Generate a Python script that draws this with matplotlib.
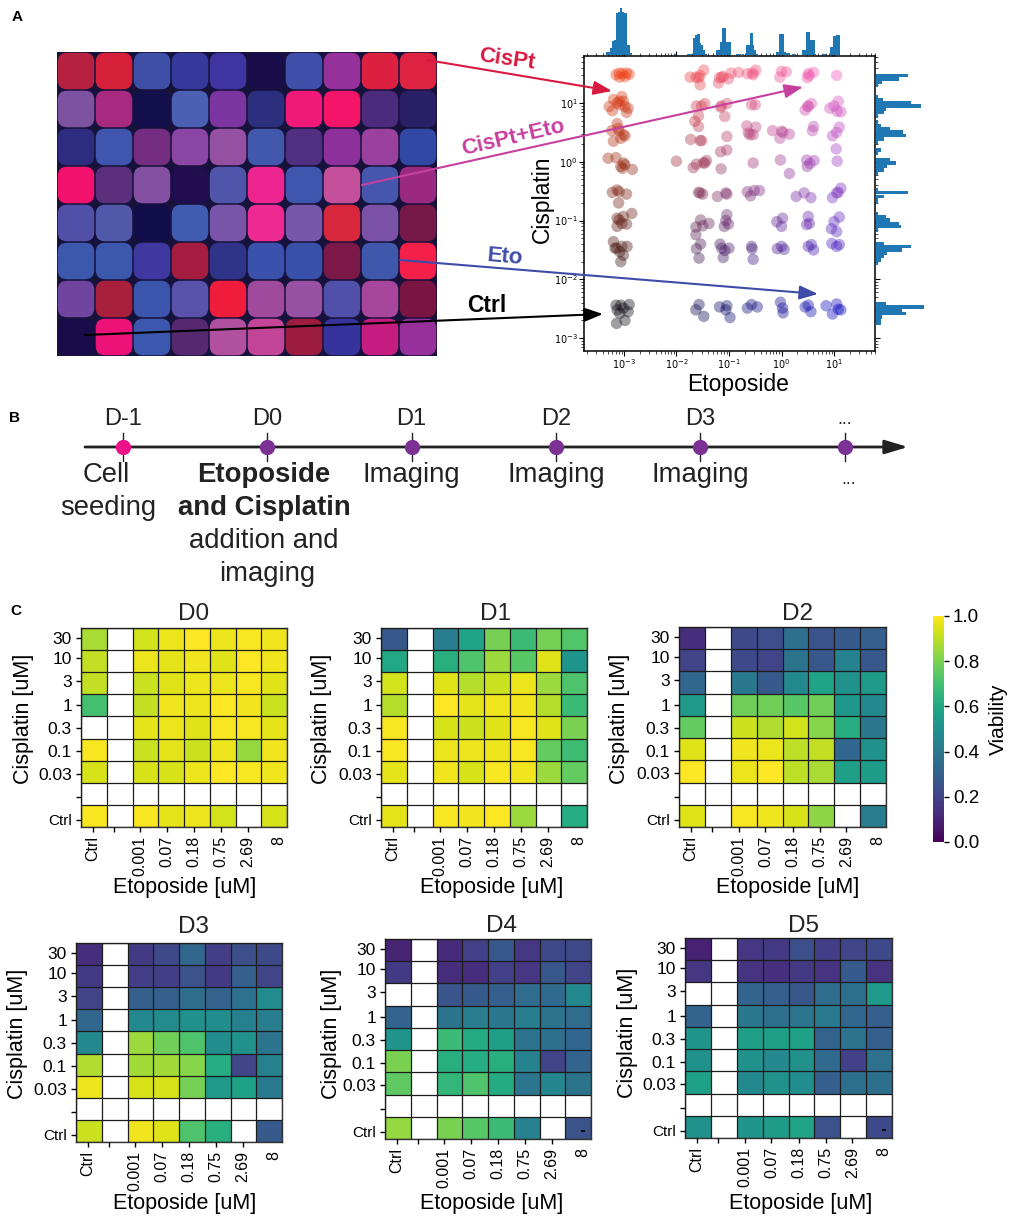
#!/usr/bin/env python3

import numpy as np
import matplotlib
matplotlib.use("Agg")
import matplotlib.pyplot as plt
from matplotlib.patches import FancyBboxPatch

plt.rcParams["font.family"] = ["Liberation Sans", "DejaVu Sans"]

W, H = 1009, 1216

# panel A: plate wells, row by row
well_colors = [
    ["#B5213F", "#D6203A", "#3F4FA8", "#35399A", "#3F34A0", "#1A0E4A", "#4050AA", "#96309A", "#DC2040", "#DE2242"],
    ["#7D52A0", "#A72A80", "#14104E", "#4B5FB3", "#7C35A0", "#2C2E7E", "#F01878", "#F41468", "#4C2A7C", "#2A2068"],
    ["#2E2C80", "#3F55AE", "#742D80", "#8A45A5", "#9650A2", "#4258AC", "#502F80", "#8E309C", "#9A409F", "#3148A4"],
    ["#F2126E", "#5C2F7C", "#8350A2", "#200E50", "#4F55AB", "#EE2590", "#3F55AE", "#C4509C", "#4656AC", "#9A2A80"],
    ["#5050A8", "#5058AA", "#120E4C", "#3F5CB0", "#7855A8", "#EE2A92", "#7856A8", "#D8263C", "#7A52A6", "#761848"],
    ["#3C58AC", "#3C58AC", "#3E38A0", "#A41C40", "#2F3488", "#3B52AC", "#3950A8", "#7C1848", "#4058AC", "#F4204A"],
    ["#6F45A0", "#A8203C", "#3B55AC", "#5852AA", "#F01C3C", "#A04A9E", "#9850A2", "#5050AA", "#A8459C", "#7A1440"],
    ["#1A0C4A", "#EC1278", "#3B58AE", "#56286F", "#B0509E", "#C24598", "#9C1C40", "#36349C", "#C41C80", "#98309C"],
]

# panel A: log10 concentrations of each droplet, one pair of lists per cisplatin level
eto_30 = [-3.15, -3.09, -3.03, -2.95, -2.90, -3.08, -2.98, -1.74, -1.63, -1.58, -1.55, -1.48, -1.55,
          -1.18, -1.14, -1.11, -1.20, -1.01, -0.96, -0.82, -0.65, -0.55, -0.49, -0.54,
          -0.03, 0.00, 0.09, 0.49, 0.51, 0.61, 0.53, 1.05]
cis_30 = [1.48, 1.51, 1.50, 1.51, 1.49, 1.44, 1.45, 1.44, 1.44, 1.43, 1.31, 1.56, 1.47,
          1.43, 1.44, 1.45, 1.34, 1.41, 1.51, 1.52, 1.50, 1.51, 1.56, 1.48,
          1.44, 1.54, 1.53, 1.43, 1.50, 1.52, 1.47, 1.47]
eto_10 = [-3.28, -3.20, -3.13, -3.04, -3.08, -2.98, -2.92, -3.22, -2.95, -3.09, -3.01,
          -1.62, -1.52, -1.46, -1.58, -1.14, -1.04, -1.16, -1.08,
          -0.57, -0.50, 0.45, 0.50, 0.57, 0.51, 0.92, 1.00, 1.08, 1.06, 1.13]
cis_10 = [0.94, 1.06, 1.00, 1.11, 0.97, 0.94, 0.91, 0.87, 0.84, 1.03, 1.03,
          0.95, 0.95, 0.99, 0.78, 0.95, 0.99, 0.93, 0.77,
          0.97, 0.97, 0.88, 0.94, 0.99, 0.95, 0.91, 0.95, 1.03, 0.86, 0.85]
eto_3 = [-3.13, -3.23, -3.09, -3.01, -2.98, -3.06, -3.20, -3.11,
         -1.65, -1.58, -1.73, -1.55, -1.52, -1.04,
         -0.66, -0.49, -0.63, -0.60, -0.54,
         -0.17, 0.00, 0.03, 0.15, -0.03, 0.61, 0.59, 0.97, 1.05, 1.10]
cis_3 = [0.65, 0.53, 0.52, 0.46, 0.44, 0.40, 0.35, 0.57,
         0.69, 0.60, 0.38, 0.36, 0.36, 0.43,
         0.61, 0.59, 0.49, 0.46, 0.46,
         0.53, 0.52, 0.50, 0.47, 0.40, 0.60, 0.53, 0.44, 0.50, 0.59]
eto_1 = [-3.30, -3.15, -3.06, -3.01, -2.98, -3.03, -2.84, -2.00,
         -1.68, -1.62, -1.49, -1.43, -1.46, -1.16, -1.04, -1.15,
         -0.54, -0.02, 0.15, 0.48, 0.62, 0.54, 0.49, 1.04, 1.06]
cis_1 = [0.06, 0.07, -0.08, -0.02, -0.05, -0.11, -0.13, 0.01,
         -0.10, -0.04, -0.02, 0.02, -0.02, 0.17, 0.20, -0.12,
         -0.02, 0.03, -0.20, 0.03, 0.02, -0.03, -0.08, 0.22, 0.01]
eto_03 = [-3.22, -3.13, -3.09, -2.95, -3.10, -1.58, -1.55, -1.50, -1.22, -1.04, -1.06,
          -0.65, -0.52, -0.42, -0.59, 0.28, 0.43, 0.56, 0.97, 1.05, 1.08, 1.13]
cis_03 = [-0.52, -0.48, -0.51, -0.55, -0.70, -0.52, -0.53, -0.55, -0.59, -0.55, -0.53,
          -0.51, -0.49, -0.49, -0.58, -0.59, -0.53, -0.61, -0.61, -0.53, -0.52, -0.45]
eto_01 = [-2.85, -3.13, -3.01, -2.95, -3.09, -3.13, -3.04,
          -1.54, -1.38, -1.63, -1.50, -1.63, -1.04, -1.06, -1.01, -1.09,
          -0.09, 0.02, 0.00, 0.51, 0.53, 0.48, 1.00, 1.10, 0.95, 1.05]
cis_01 = [-0.88, -0.96, -0.93, -1.06, -0.99, -1.10, -1.05,
          -0.99, -1.05, -1.11, -1.09, -1.24, -0.90, -1.00, -1.06, -1.10,
          -1.02, -0.96, -1.10, -0.93, -1.05, -1.07, -1.02, -0.94, -1.14, -1.19]
eto_003 = [-3.20, -3.14, -3.04, -2.94, -3.08, -3.01, -3.06, -3.17,
           -1.62, -1.54, -1.57, -1.17, -1.14, -1.00, -1.08, -1.11,
           -0.57, -0.56, -0.54, -0.08, 0.00, 0.05, 0.51, 0.57, 0.61, 0.96, 1.05, 1.10]
cis_003 = [-1.36, -1.47, -1.44, -1.44, -1.53, -1.59, -1.70, -1.47,
           -1.48, -1.40, -1.64, -1.40, -1.47, -1.47, -1.51, -1.63,
           -1.44, -1.48, -1.66, -1.48, -1.44, -1.49, -1.44, -1.41, -1.50, -1.39, -1.44, -1.41]
eto_ctrl = [-3.15, -3.06, -2.90, -3.13, -3.01, -2.92, -2.98, -3.14, -3.08,
            -1.63, -1.57, -1.48, -1.18, -1.04, -1.06, -0.98,
            -0.65, -0.57, -0.46, -0.02, 0.02, 0.03, 0.45, 0.51, 0.56,
            0.85, 0.97, 1.05, 1.08, 1.13]
cis_ctrl = [-2.44, -2.44, -2.43, -2.52, -2.49, -2.55, -2.70, -2.75, -2.58,
            -2.52, -2.43, -2.63, -2.47, -2.45, -2.52, -2.65,
            -2.49, -2.43, -2.47, -2.39, -2.49, -2.57, -2.47, -2.44, -2.55,
            -2.45, -2.59, -2.42, -2.51, -2.52]

eto_points = [eto_30, eto_10, eto_3, eto_1, eto_03, eto_01, eto_003, eto_ctrl]
cis_points = [cis_30, cis_10, cis_3, cis_1, cis_03, cis_01, cis_003, cis_ctrl]

# panel A: marginal histograms, bin centres in log10 and counts
top_bins = [-3.32, -3.28, -3.24, -3.20, -3.17, -3.13, -3.09, -3.05, -3.01, -2.97, -2.94, -2.90, -2.86,
            -2.03, -1.77, -1.74, -1.70, -1.66, -1.62, -1.58, -1.55, -1.51, -1.47, -1.43,
            -1.22, -1.18, -1.15, -1.11, -1.07, -1.03, -0.99, -0.84, -0.80,
            -0.73, -0.65, -0.61, -0.57, -0.54, -0.50, -0.46,
            -0.09, -0.05, -0.02, 0.02, 0.06, 0.10, 0.14, 0.23, 0.26,
            0.42, 0.45, 0.49, 0.53, 0.57, 0.61, 0.64,
            0.80, 0.83, 0.94, 0.97, 1.01, 1.05, 1.09]
top_counts = [1.5, 1.5, 3, 6, 6.5, 18, 18.5, 20, 18.5, 18, 4.5, 4.5, 1,
              0.5, 0.3, 0.3, 0.5, 7.5, 8.5, 9, 5, 4.5, 2, 0.5,
              2, 2, 5.5, 11.5, 11.5, 5.5, 5.5, 0.4, 0.3,
              0.4, 4.5, 4.5, 9.5, 4.5, 2, 0.3,
              1.5, 1.5, 9, 9, 1.5, 1, 0.7, 0.4, 0.4,
              2, 2, 10, 10, 6.5, 6.5, 0.4,
              0.4, 0.4, 3.5, 3.5, 8, 8.5, 8.5]
right_bins = [1.47, 1.41, 1.36, 1.30, 1.11, 1.06, 1.01, 0.95, 0.90, 0.84, 0.78,
              0.68, 0.62, 0.56, 0.51, 0.45, 0.39, 0.34, 0.20, 0.15,
              0.03, -0.02, -0.08, -0.14, -0.19, -0.47, -0.52, -0.59, -0.65, -0.69,
              -0.88, -0.93, -0.99, -1.05, -1.10, -1.16,
              -1.39, -1.44, -1.50, -1.56, -1.61, -1.67, -1.73,
              -2.41, -2.47, -2.52, -2.58, -2.64, -2.69, -2.75]
right_counts = [13.5, 9.5, 2.5, 1, 1, 3, 14.5, 19, 4, 3.5, 1,
                1, 2, 6, 11.5, 12.5, 3.5, 1, 2, 1,
                6, 8.5, 4.5, 3.5, 1, 1, 13.5, 3.5, 1, 1,
                1, 4, 6, 9.5, 10.5, 1,
                3.5, 14.5, 11, 4.5, 3.5, 2, 1,
                4, 20, 11, 12.5, 2.5, 2, 2]

# panel B
timeline_days = [-1, 0, 1, 2, 3, 4]
timeline_labels = ["D-1", "D0", "D1", "D2", "D3", "..."]
timeline_colors = ["#EC128A", "#7B3294", "#7B3294", "#7B3294", "#7B3294", "#7B3294"]

# panel C
eto_labels = ["Ctrl", "", "0.001", "0.07", "0.18", "0.75", "2.69", "8"]
cis_labels = ["30", "10", "3", "1", "0.3", "0.1", "0.03", "", "Ctrl"]
n = np.nan
blank = [n] * 8

d0 = [[.87, n, .93, .97, 1.0, .97, .99, .98],
      [.91, n, .97, .96, .98, .95, 1.0, .98],
      [.91, n, .92, .95, .97, .97, .99, .95],
      [.70, n, .91, .98, .97, 1.0, .98, .92],
      [n, n, .96, .97, .95, .99, .99, .96],
      [.99, n, .92, .96, .92, .97, .84, .98],
      [.94, n, .94, .94, .97, 1.0, .99, .98],
      blank,
      [.99, n, .99, .96, .97, .93, n, .94]]
d1 = [[.27, n, .42, .58, .79, .68, .79, .73],
      [.60, n, .63, .72, .85, .74, .95, .52],
      [.93, n, .95, .89, .92, .97, .85, .72],
      [.89, n, 1.0, .96, .98, .98, .89, .68],
      [.99, n, .94, .92, .95, .99, .95, .80],
      [.99, n, .97, .97, .97, .99, .76, .69],
      [.96, n, .98, .94, .99, .98, .85, .76],
      blank,
      [.96, n, .99, .98, 1.0, .85, n, .62]]
d2 = [[.13, n, .22, .24, .36, .25, .28, .30],
      [.20, n, .22, .20, .38, .27, .44, .27],
      [.33, n, .40, .28, .47, .58, .50, .54],
      [.54, n, .78, .78, .74, .78, .53, .47],
      [.76, n, .92, .88, .93, .82, .62, .40],
      [.95, n, .98, .97, .90, .91, .33, .50],
      [1.0, n, .97, 1.0, .90, .87, .56, .55],
      blank,
      [.95, n, .99, .98, .94, .83, n, .42]]
d3 = [[.13, n, .17, .22, .33, .18, .24, .22],
      [.17, n, .18, .18, .25, .17, .30, .21],
      [.20, n, .30, .30, .35, .31, .37, .48],
      [.33, n, .47, .48, .50, .49, .43, .42],
      [.47, n, .85, .78, .72, .49, .50, .38],
      [.88, n, .86, .86, .82, .62, .21, .43],
      [.97, n, .94, .94, .79, .54, .57, .41],
      blank,
      [.92, n, .98, .95, .72, .63, n, .28]]
d4 = [[.10, n, .12, .19, .27, .16, .22, .22],
      [.17, n, .13, .13, .19, .16, .27, .20],
      [n, n, .26, .28, .30, .35, .34, .47],
      [.32, n, .38, .42, .40, .42, .38, .35],
      [.52, n, .68, .61, .56, .38, .36, .33],
      [.80, n, .63, .62, .63, .44, .20, .32],
      [.75, n, .66, .72, .61, .39, .46, .38],
      blank,
      [.84, n, .80, .74, .68, .44, n, .25]]
d5 = [[.09, n, .16, .17, .24, .18, .21, .22],
      [.16, n, .15, .14, .17, .15, .28, .15],
      [n, n, .32, .30, .27, .35, .36, .54],
      [.32, n, .40, .36, .39, .41, .33, .30],
      [.52, n, .56, .56, .57, .31, .38, .30],
      [.50, n, .50, .47, .50, .34, .19, .37],
      [.57, n, .47, .50, .49, .30, .36, .36],
      blank,
      [.50, n, .52, .55, .58, .25, n, .22]]


def px_axes(fig, left, top, right, bottom, **kwargs):
    return fig.add_axes([left / W, 1 - bottom / H, (right - left) / W, (bottom - top) / H], **kwargs)


def place_label(axis, fig, x, y):
    axis.set_label_coords(x / W, 1 - y / H, transform=fig.transFigure)
    axis.label.set_verticalalignment("center")
    axis.label.set_horizontalalignment("center")


def droplet_colors(lx, ly):
    e = np.clip((np.asarray(lx) + 3) / 4, 0, 1)
    c = np.clip((np.asarray(ly) + 2.5) / 4, 0, 1)
    return np.column_stack([0.06 + 0.88 * c, 0.05 + 0.2 * c + 0.1 * e * c, 0.08 + 0.67 * e])


def draw_plate(fig):
    ax = px_axes(fig, 57, 52, 437, 356)
    ax.set_facecolor("#17123C")
    for r, row in enumerate(well_colors):
        for c, color in enumerate(row):
            ax.add_patch(FancyBboxPatch((c + 0.02, r + 0.02), 0.96, 0.96,
                                        boxstyle="round,pad=0,rounding_size=0.24",
                                        facecolor=color, edgecolor="none"))
    ax.set_xlim(0, 10)
    ax.set_ylim(8, 0)
    ax.set_xticks([])
    ax.set_yticks([])
    for spine in ax.spines.values():
        spine.set_visible(False)


def draw_scatter(fig):
    xlim = (-3.76, 1.78)
    ylim = (-3.22, 1.80)
    ax = px_axes(fig, 584, 56, 875, 351)
    for lx, ly in zip(eto_points, cis_points):
        ax.scatter(10.0 ** np.array(lx), 10.0 ** np.array(ly), s=68, c=droplet_colors(lx, ly),
                   alpha=0.4, linewidths=0)
    ax.set_xscale("log")
    ax.set_yscale("log")
    ax.set_xlim(10 ** xlim[0], 10 ** xlim[1])
    ax.set_ylim(10 ** ylim[0], 10 ** ylim[1])
    ax.set_xticks([1e-3, 1e-2, 1e-1, 1e0, 1e1])
    ax.set_yticks([1e-3, 1e-2, 1e-1, 1e0, 1e1])
    ax.tick_params(which="major", labelsize=7, length=3.5, width=0.8, top=True, right=True, pad=1)
    ax.tick_params(which="minor", length=2, width=0.5, top=True, right=True)
    for label in ax.get_xticklabels() + ax.get_yticklabels():
        label.set_fontfamily("DejaVu Sans")
    ax.set_xlabel("Etoposide", fontsize=16.5)
    ax.set_ylabel("Cisplatin", fontsize=16.5)
    place_label(ax.xaxis, fig, 738, 384)
    place_label(ax.yaxis, fig, 542, 199)
    for spine in ax.spines.values():
        spine.set_linewidth(1.1)

    top = px_axes(fig, 584, 6, 875, 55)
    top.bar(top_bins, top_counts, width=0.042, color="#1f77b4")
    top.set_xlim(*xlim)
    top.set_ylim(0, 21)
    top.axis("off")

    right = px_axes(fig, 876, 56, 926, 351)
    right.barh(right_bins, right_counts, height=0.058, color="#1f77b4")
    right.set_ylim(*ylim)
    right.set_xlim(0, 21)
    right.axis("off")


def draw_overlay(fig):
    ax = fig.add_axes([0, 0, 1, 1], facecolor="none")
    ax.set_xlim(0, W)
    ax.set_ylim(H, 0)
    ax.axis("off")

    arrows = [((427, 60), (612, 91), "#D9193F"),
              ((362, 185), (803, 87), "#C8409F"),
              ((400, 260), (818, 294), "#3F4BA8"),
              ((85, 335), (603, 314), "black")]
    for start, end, color in arrows:
        ax.annotate("", xy=end, xytext=start,
                    arrowprops=dict(arrowstyle="-|>,head_length=0.8,head_width=0.3", color=color,
                                    lw=1.5, shrinkA=0, shrinkB=0, mutation_scale=14))
    ax.text(507, 59, "CisPt", color="#D9193F", fontsize=16, fontweight="bold",
            ha="center", va="center", rotation=-8)
    ax.text(513, 138, "CisPt+Eto", color="#C8409F", fontsize=16, fontweight="bold",
            ha="center", va="center", rotation=13)
    ax.text(505, 257, "Eto", color="#3F4BA8", fontsize=16, fontweight="bold",
            ha="center", va="center", rotation=-5)
    ax.text(487, 305, "Ctrl", color="black", fontsize=16.5, fontweight="bold",
            ha="center", va="center")

    for letter, x, y in [("A", 17, 17), ("B", 15, 418), ("C", 16, 611)]:
        ax.text(x, y, letter, fontsize=11, fontweight="bold", ha="center", va="center")

    # timeline
    day_x = [123 + 144.3 * (d + 1) for d in timeline_days]
    ax.annotate("", xy=(908, 447), xytext=(85, 447),
                arrowprops=dict(arrowstyle="-|>,head_length=1.0,head_width=0.3", color="#222222",
                                lw=2, shrinkA=0, shrinkB=0, mutation_scale=14))
    for x, label, color in zip(day_x, timeline_labels, timeline_colors):
        ax.plot([x, x], [433, 461], color="#222222", lw=1, zorder=2)
        ax.plot(x, 447, "o", color=color, ms=11, mec="none", zorder=3)
        ax.text(x, 419, label, fontsize=17 if label != "..." else 13, ha="center", va="center",
                color="#222222")
    for x, y, label, weight in [(106, 475, "Cell", "normal"), (108, 508, "seeding", "normal"),
                                (264, 475, "Etoposide", "bold"), (264, 508, "and Cisplatin", "bold"),
                                (264, 541, "addition and", "normal"), (267, 574, "imaging", "normal"),
                                (411, 475, "Imaging", "normal"), (556, 475, "Imaging", "normal"),
                                (700, 475, "Imaging", "normal"), (849, 480, "...", "normal")]:
        ax.text(x, y, label, fontsize=19.8 if label != "..." else 13, fontweight=weight,
                ha="center", va="center", color="#222222")


def draw_heatmap(fig, box, values, title, title_xy, xlabel_xy, ylabel_xy, dash=False):
    ax = px_axes(fig, *box)
    data = np.ma.masked_invalid(np.array(values))
    mesh = ax.pcolormesh(np.arange(9), np.arange(10), data, cmap="viridis", vmin=0, vmax=1)
    ax.set_xlim(0, 8)
    ax.set_ylim(9, 0)
    ax.set_xticks(np.arange(9), minor=True)
    ax.set_yticks(np.arange(10), minor=True)
    ax.grid(which="minor", color="#1c1c1c", linewidth=0.9)
    ax.set_axisbelow(False)
    ax.tick_params(which="minor", length=0)
    ax.set_xticks([0.47, 1.29, 2.30, 3.34, 4.40, 5.44, 6.47, 7.67])
    ax.set_xticklabels(eto_labels, rotation=90, fontsize=11.5)
    ax.set_yticks([0.44, 1.37, 2.40, 3.50, 4.54, 5.56, 6.59, 7.65, 8.68])
    ax.set_yticklabels(cis_labels, fontsize=12.5)
    ax.tick_params(axis="both", which="major", length=3.5, width=1, pad=3)
    ax.get_yticklabels()[-1].set_fontsize(11)
    ax.xaxis.get_major_ticks()[-1].tick1line.set_visible(False)
    ax.set_xlabel("Etoposide [uM]", fontsize=15.5)
    ax.set_ylabel("Cisplatin [uM]", fontsize=15.5)
    place_label(ax.xaxis, fig, *xlabel_xy)
    place_label(ax.yaxis, fig, *ylabel_xy)
    fig.text(title_xy[0] / W, 1 - title_xy[1] / H, title, fontsize=17.5, ha="center", va="center",
             color="#222222")
    if dash:
        ax.plot(7.68, 8.65, marker="_", color="black", ms=3, mew=1.2)
    for spine in ax.spines.values():
        spine.set_color("#333333")
        spine.set_linewidth(1)
    return mesh


def main():
    fig = plt.figure(figsize=(W / 100, H / 100), dpi=100)

    draw_plate(fig)
    draw_scatter(fig)

    draw_heatmap(fig, (81, 628, 287, 827), d0, "D0", (194, 614), (185, 888), (23, 719))
    draw_heatmap(fig, (381, 628, 587, 827), d1, "D1", (495, 614), (492, 888), (322, 719))
    mesh = draw_heatmap(fig, (679, 627, 886, 827), d2, "D2", (797, 614), (788, 888), (620, 719))
    draw_heatmap(fig, (76, 943, 282, 1142), d3, "D3", (194, 927), (185, 1204), (18, 1034))
    draw_heatmap(fig, (385, 939, 591, 1139), d4, "D4", (501, 926), (492, 1204), (332, 1034), dash=True)
    draw_heatmap(fig, (685, 938, 892, 1138), d5, "D5", (803, 926), (801, 1204), (628, 1033), dash=True)

    cax = px_axes(fig, 933, 616, 944, 842)
    cbar = fig.colorbar(mesh, cax=cax)
    cbar.set_ticks([0, 0.2, 0.4, 0.6, 0.8, 1.0])
    cbar.ax.tick_params(labelsize=13.5, length=3.5, width=1, pad=3)
    cbar.outline.set_visible(False)
    cbar.set_label("Viability", fontsize=15)
    place_label(cbar.ax.yaxis, fig, 998, 719)

    draw_overlay(fig)

    fig.savefig("out.png", dpi=100)
    plt.close(fig)


if __name__ == "__main__":
    main()
